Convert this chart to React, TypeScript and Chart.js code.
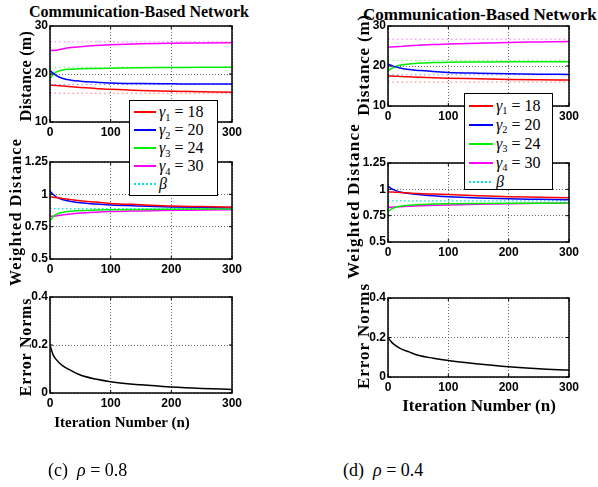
import React, { useEffect, useRef } from "react";
import { Chart, registerables } from "chart.js";
Chart.register(...registerables);

// ---------------- data ----------------
const xIter = [0, 5, 10, 20, 35, 50, 75, 100, 150, 200, 250, 300];
const xTicks = [0, 100, 200, 300];
const gammas = [18, 20, 24, 30];
const beta = 0.89;
const refDistances = [16.0, 17.8, 21.4, 26.7];

const distTicks = [10, 20, 30];
const wTicks = [0.5, 0.75, 1, 1.25];
const errTicks = [0, 0.2, 0.4];

// (c) rho = 0.8
const distC_g1 = [17.7, 17.65, 17.6, 17.5, 17.35, 17.2, 17.0, 16.8, 16.55, 16.4, 16.3, 16.2];
const distC_g2 = [20.7, 20.2, 19.7, 19.1, 18.7, 18.5, 18.3, 18.15, 18.0, 17.95, 17.9, 17.9];
const distC_g3 = [19.0, 19.9, 20.4, 20.8, 21.0, 21.1, 21.15, 21.2, 21.3, 21.35, 21.4, 21.4];
const distC_g4 = [25.0, 24.9, 24.95, 25.2, 25.5, 25.7, 25.95, 26.1, 26.3, 26.4, 26.45, 26.5];

const wC_g1 = [0.98, 0.978, 0.975, 0.968, 0.958, 0.95, 0.94, 0.93, 0.92, 0.91, 0.905, 0.9];
const wC_g2 = [1.025, 1.0, 0.98, 0.96, 0.945, 0.935, 0.925, 0.918, 0.91, 0.903, 0.9, 0.898];
const wC_g3 = [0.795, 0.825, 0.845, 0.86, 0.87, 0.875, 0.878, 0.88, 0.883, 0.885, 0.886, 0.887];
const wC_g4 = [0.83, 0.83, 0.833, 0.84, 0.848, 0.855, 0.862, 0.867, 0.872, 0.876, 0.878, 0.88];

const errC = [0.2, 0.16, 0.14, 0.115, 0.093, 0.075, 0.058, 0.047, 0.034, 0.025, 0.019, 0.015];

// (d) rho = 0.4
const distD_g1 = [17.5, 17.5, 17.45, 17.4, 17.3, 17.2, 17.05, 16.95, 16.8, 16.65, 16.55, 16.5];
const distD_g2 = [20.5, 20.2, 19.9, 19.5, 19.1, 18.9, 18.6, 18.4, 18.2, 18.05, 17.95, 17.9];
const distD_g3 = [18.8, 19.3, 19.7, 20.2, 20.5, 20.7, 20.85, 20.95, 21.0, 21.05, 21.05, 21.05];
const distD_g4 = [24.8, 24.75, 24.8, 24.9, 25.05, 25.2, 25.35, 25.5, 25.7, 25.9, 26.0, 26.1];

const wD_g1 = [0.975, 0.975, 0.973, 0.97, 0.965, 0.96, 0.955, 0.95, 0.94, 0.93, 0.925, 0.92];
const wD_g2 = [1.03, 1.01, 0.995, 0.975, 0.96, 0.95, 0.938, 0.93, 0.918, 0.91, 0.905, 0.9];
const wD_g3 = [0.79, 0.81, 0.825, 0.84, 0.85, 0.855, 0.86, 0.863, 0.866, 0.868, 0.869, 0.87];
const wD_g4 = [0.83, 0.83, 0.832, 0.835, 0.84, 0.843, 0.848, 0.852, 0.858, 0.863, 0.867, 0.87];

const errD = [0.2, 0.18, 0.165, 0.145, 0.127, 0.11, 0.095, 0.083, 0.066, 0.052, 0.042, 0.035];

// ---------------- styles ----------------
const COLORS = ["#ff0000", "#0000ff", "#00ee00", "#ff00ff"];
const REF_COLORS = ["rgba(255,0,0,0.55)", "rgba(0,0,255,0.45)", "rgba(0,220,0,0.55)", "rgba(255,0,255,0.55)"];
const BETA_COLOR = "#00e5e5";
const TICK_FONT = { family: "'Liberation Sans', Arial, sans-serif", size: 12, weight: "bold" as const };
const SERIF = "'Liberation Serif', 'Times New Roman', serif";

const PADL = 45, PADR = 16, PADT = 10, PADB = 22;

const boxPlugin = {
  id: "box",
  afterDatasetsDraw(chart: any) {
    const { ctx, chartArea: a, scales } = chart;
    ctx.save();
    ctx.strokeStyle = "#000";
    ctx.lineWidth = 1.5;
    ctx.setLineDash([]);
    ctx.strokeRect(a.left, a.top, a.right - a.left, a.bottom - a.top);
    ctx.lineWidth = 1;
    const tl = 3;
    scales.x.ticks.forEach((t: any) => {
      const px = scales.x.getPixelForValue(t.value);
      ctx.beginPath();
      ctx.moveTo(px, a.bottom); ctx.lineTo(px, a.bottom - tl);
      ctx.moveTo(px, a.top); ctx.lineTo(px, a.top + tl);
      ctx.stroke();
    });
    scales.y.ticks.forEach((t: any) => {
      const py = scales.y.getPixelForValue(t.value);
      ctx.beginPath();
      ctx.moveTo(a.left, py); ctx.lineTo(a.left + tl, py);
      ctx.moveTo(a.right, py); ctx.lineTo(a.right - tl, py);
      ctx.stroke();
    });
    ctx.restore();
  },
};

type Series = { values: number[]; color: string; dash?: number[]; width?: number; xs?: number[] };

function SubPlot(props: {
  left: number; top: number; width: number; height: number;
  yMin: number; yMax: number; yTicks: number[]; series: Series[];
}) {
  const { left, top, width, height, yMin, yMax, yTicks, series } = props;
  const ref = useRef<HTMLCanvasElement>(null);
  const cw = width + PADL + PADR;
  const ch = height + PADT + PADB;
  useEffect(() => {
    if (!ref.current) return;
    const datasets = series.map((s) => {
      const xs = s.xs || xIter;
      return {
        data: xs.map((x, i) => ({ x, y: s.values[i] })),
        borderColor: s.color,
        borderWidth: s.width ?? 1.5,
        borderDash: s.dash || [],
        pointRadius: 0,
        fill: false,
        cubicInterpolationMode: "monotone" as const,
      };
    });
    const grid = { color: "#444", lineWidth: 0.8, drawTicks: false };
    const chart = new Chart(ref.current, {
      type: "line",
      data: { datasets },
      options: {
        animation: false,
        responsive: false,
        events: [],
        layout: { padding: { top: PADT, right: PADR, left: 0, bottom: 0 } },
        plugins: { legend: { display: false }, tooltip: { enabled: false }, title: { display: false } },
        scales: {
          x: {
            type: "linear", min: 0, max: 300,
            afterBuildTicks: (s: any) => { s.ticks = xTicks.map((v) => ({ value: v })); },
            afterFit: (s: any) => { s.height = PADB; },
            ticks: { font: TICK_FONT, color: "#000", padding: 3, maxRotation: 0, autoSkip: false, callback: (v: any) => String(v) },
            grid,
            border: { display: false, dash: [1, 2] },
          },
          y: {
            type: "linear", min: yMin, max: yMax,
            afterBuildTicks: (s: any) => { s.ticks = yTicks.map((v) => ({ value: v })); },
            afterFit: (s: any) => { s.width = PADL; },
            ticks: { font: TICK_FONT, color: "#000", padding: 2, autoSkip: false, callback: (v: any) => String(+Number(v).toFixed(2)) },
            grid,
            border: { display: false, dash: [1, 2] },
          },
        },
      } as any,
      plugins: [boxPlugin],
    });
    return () => chart.destroy();
  }, []);
  return (
    <canvas
      ref={ref}
      width={cw}
      height={ch}
      style={{ position: "absolute", left: left - PADL, top: top - PADT, width: cw, height: ch }}
    />
  );
}

function Text(props: { x: number; y: number; children: any; size: number; bold?: boolean; anchor?: "left" | "center"; spacing?: number }) {
  const { x, y, children, size, bold, anchor = "center", spacing = 0 } = props;
  const tx = anchor === "center" ? "-50%" : "0";
  return (
    <div
      style={{
        position: "absolute", left: x, top: y,
        transform: `translate(${tx}, -50%)`,
        whiteSpace: "nowrap", fontFamily: SERIF, fontSize: size,
        fontWeight: bold ? "bold" : "normal", letterSpacing: spacing, lineHeight: 1, color: "#000",
      }}
    >
      {children}
    </div>
  );
}

function RotLabel(props: { x: number; y: number; text: string; size: number; spacing?: number }) {
  const { x, y, text, size, spacing = 0 } = props;
  return (
    <div
      style={{
        position: "absolute", left: x, top: y, transform: "translate(-50%, -50%) rotate(-90deg)",
        whiteSpace: "nowrap", fontFamily: SERIF, fontSize: size, fontWeight: "bold",
        letterSpacing: spacing, lineHeight: 1, color: "#000",
      }}
    >
      {text}
    </div>
  );
}

function Legend(props: { left: number; top: number; width: number; height: number; lineW: number; size: number }) {
  const { left, top, width, height, lineW, size } = props;
  const rowH = Math.round((height - 4) / 5);
  const rows = gammas.map((g, i) => ({
    color: COLORS[i], dotted: false,
    label: (
      <span>
        <i>γ</i><span style={{ fontSize: size * 0.65, position: "relative", top: size * 0.22 }}>{i + 1}</span> = {g}
      </span>
    ),
  }));
  rows.push({ color: BETA_COLOR, dotted: true, label: <i>β</i> });
  return (
    <div
      style={{
        position: "absolute", left, top, width, height, background: "#fff",
        border: "1px solid #000", boxSizing: "border-box", paddingTop: 2, zIndex: 5, overflow: "hidden",
      }}
    >
      {rows.map((r, i) => (
        <div key={i} style={{ height: rowH, display: "flex", alignItems: "center", paddingLeft: 4 }}>
          <div
            style={{
              width: lineW, minWidth: lineW, flexShrink: 0, height: 2, marginRight: 3,
              background: r.dotted
                ? `repeating-linear-gradient(90deg, ${r.color} 0 2px, transparent 2px 4px)`
                : r.color,
            }}
          />
          <div style={{ fontFamily: SERIF, fontSize: size, lineHeight: 1, whiteSpace: "nowrap" }}>{r.label}</div>
        </div>
      ))}
    </div>
  );
}

function distSeries(g: number[][]): Series[] {
  const s: Series[] = [];
  refDistances.forEach((r, i) => s.push({ values: [r, r], xs: [0, 300], color: REF_COLORS[i], dash: [1.5, 3], width: 1 }));
  g.forEach((v, i) => s.push({ values: v, color: COLORS[i] }));
  return s;
}
function wSeries(g: number[][]): Series[] {
  const s: Series[] = g.map((v, i) => ({ values: v, color: COLORS[i] }));
  s.push({ values: [beta, beta], xs: [0, 300], color: BETA_COLOR, dash: [1.5, 2.5], width: 1.2 });
  return s;
}

export default function App() {
  return (
    <div style={{ position: "absolute", left: 0, top: 0, width: 598, height: 487, overflow: "hidden", background: "#fff" }}>
      {/* left column (c) */}
      <Text x={139} y={12} size={16} bold>Communication-Based Network</Text>
      <SubPlot left={50} top={26} width={182} height={96} yMin={10} yMax={30} yTicks={distTicks}
        series={distSeries([distC_g1, distC_g2, distC_g3, distC_g4])} />
      <SubPlot left={50} top={162} width={182} height={97} yMin={0.5} yMax={1.25} yTicks={wTicks}
        series={wSeries([wC_g1, wC_g2, wC_g3, wC_g4])} />
      <SubPlot left={50} top={297} width={182} height={96} yMin={0} yMax={0.4} yTicks={errTicks}
        series={[{ values: errC, color: "#000" }]} />
      <RotLabel x={26} y={76} text="Distance (m)" size={16} spacing={0.3} />
      <RotLabel x={16} y={212} text="Weighted Distance" size={16} spacing={1.2} />
      <RotLabel x={26} y={347} text="Error Norms" size={16} spacing={0.8} />
      <Text x={122} y={422} size={15} bold>Iteration Number (n)</Text>
      <Legend left={129} top={100} width={89} height={96} lineW={22} size={16} />
      <Text x={48} y={470} size={18} anchor="left">(c)&nbsp;&nbsp;<i>ρ</i> = 0.8</Text>

      {/* right column (d) */}
      <Text x={363} y={14} size={17} bold anchor="left">Communication-Based Network</Text>
      <SubPlot left={388} top={26} width={181} height={80} yMin={10} yMax={30} yTicks={distTicks}
        series={distSeries([distD_g1, distD_g2, distD_g3, distD_g4])} />
      <SubPlot left={388} top={163} width={181} height={79} yMin={0.5} yMax={1.25} yTicks={wTicks}
        series={wSeries([wD_g1, wD_g2, wD_g3, wD_g4])} />
      <SubPlot left={388} top={298} width={181} height={79} yMin={0} yMax={0.4} yTicks={errTicks}
        series={[{ values: errD, color: "#000" }]} />
      <RotLabel x={363} y={65} text="Distance (m)" size={17} spacing={0.8} />
      <RotLabel x={353} y={201} text="Weighted Distance" size={17} spacing={1.2} />
      <RotLabel x={363} y={336} text="Error Norms" size={17} spacing={1} />
      <Text x={479} y={405} size={17} bold>Iteration Number (n)</Text>
      <Legend left={464} top={93} width={89} height={97} lineW={24} size={16} />
      <Text x={343} y={470} size={18} anchor="left">(d)&nbsp;&nbsp;<i>ρ</i> = 0.4</Text>
    </div>
  );
}
